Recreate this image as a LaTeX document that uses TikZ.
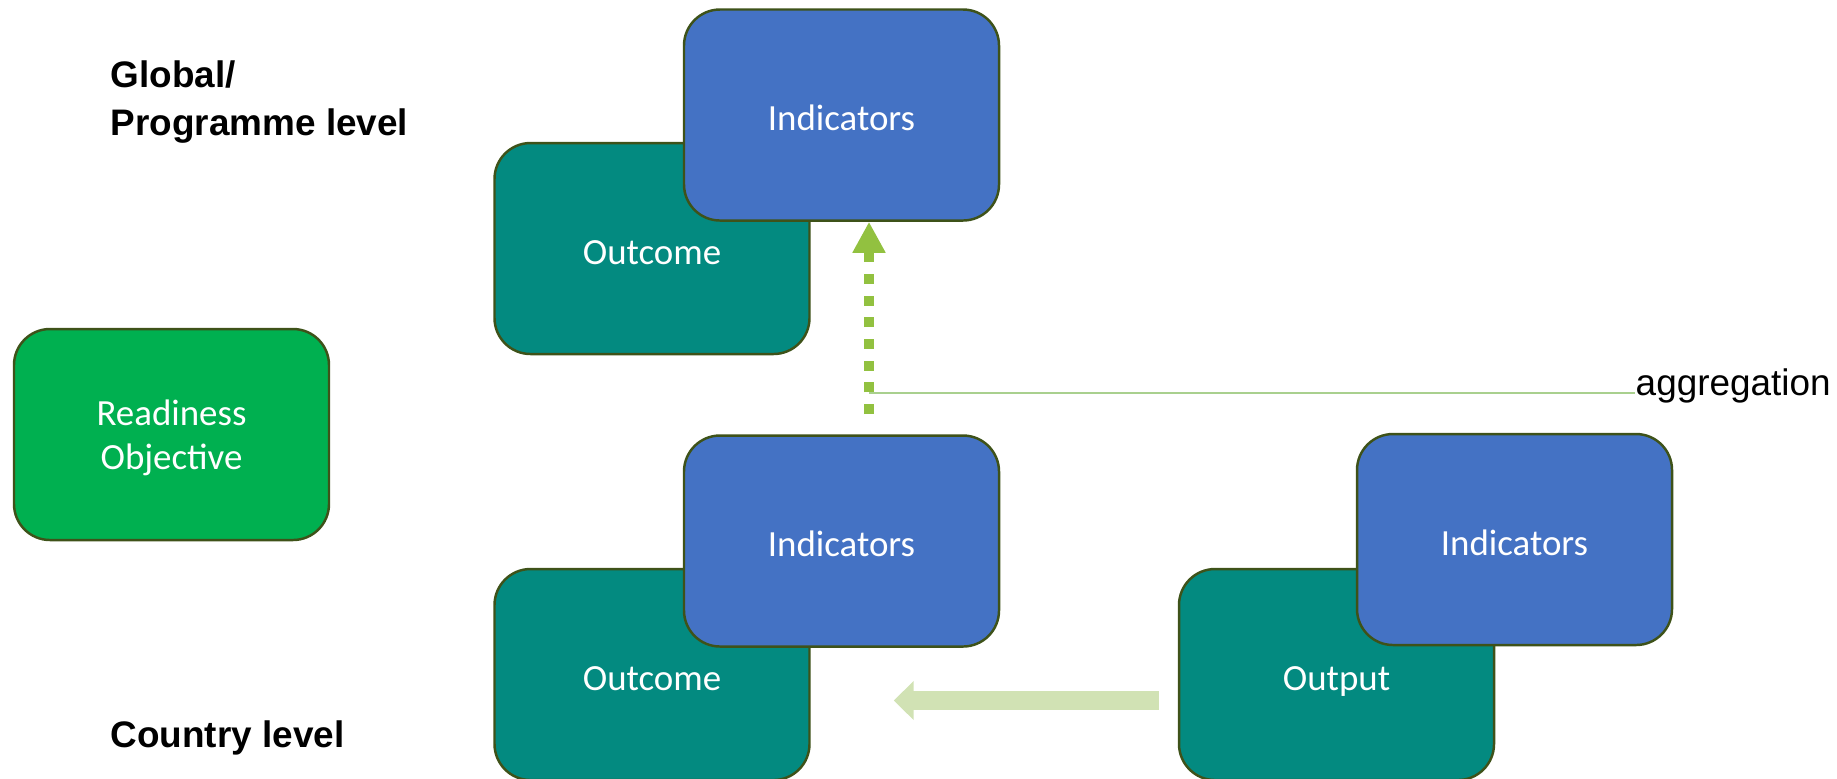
\documentclass[tikz,border=0pt]{standalone}
\usepackage{fontspec}
\setmainfont{Carlito}
\newfontfamily\labelfont{Liberation Sans}
\usetikzlibrary{arrows.meta}

\definecolor{indblue}{HTML}{4472C4}
\definecolor{outteal}{HTML}{038A80}
\definecolor{readygreen}{HTML}{00B050}
\definecolor{boxedge}{HTML}{3E5219}
\definecolor{aggreen}{HTML}{92C140}
\definecolor{flowgreen}{HTML}{D1E2B4}
\definecolor{tickgreen}{HTML}{A9D08E}

\tikzset{
	block/.style={draw=boxedge, line width=0.7pt, rounded corners=0.36cm, minimum width=3.15cm, minimum height=2.11cm, inner sep=0pt, text=white, align=center, text depth=0pt, font=\fontsize{10.5}{12.6}\selectfont},
	onebox/.style={block, text height=0.9em},
	indbox/.style={onebox, fill=indblue},
	outbox/.style={onebox, fill=outteal},
	levellabel/.style={font=\labelfont\bfseries\fontsize{10.5}{13.6}\selectfont, align=left, inner sep=0pt}
}

\begin{document}
\begin{tikzpicture}
		\useasboundingbox (0,0) rectangle (18.37,-7.78);
		%%%%% START %%%%%
		
		\node[levellabel, anchor=north west] (globallbl) at (1.10,-0.60) {Global/\\Programme level};
		\node[levellabel, anchor=base west] (countrylbl) at (1.10,-7.47) {Country level};
		
		\node[block, fill=readygreen] (ready) at (1.715,-4.345) {Readiness\\Objective};
		
		\node[outbox] (topout) at (6.52,-2.485) {Outcome};
		\node[indbox] (topind) at (8.415,-1.15) {Indicators};
		
		\node[outbox] (botout) at (6.52,-6.745) {Outcome};
		\node[indbox] (botind) at (8.415,-5.41) {Indicators};
		
		\node[outbox] (output) at (13.365,-6.745) {Output};
		\node[indbox] (outind) at (15.145,-5.395) {Indicators};
		
		\coordinate (aggfoot) at (8.69,-4.14);
		\coordinate (aggtick) at (8.69,-3.925);
		\node[anchor=base west, inner sep=0pt, font=\labelfont\fontsize{10.5}{12.6}\selectfont] (agg) at (16.35,-3.95) {aggregation};
		\draw[tickgreen, line width=0.02cm] (aggtick) -- (aggtick -| agg.base west);
		\draw[aggreen, line width=0.1cm, dash pattern=on 0.1cm off 0.117cm, -{Triangle[length=0.31cm,width=0.31cm]}] (aggfoot) -- (aggfoot |- topind.south);
		
		\draw[flowgreen, line width=0.19cm, -{Triangle[length=0.2cm,width=0.38cm]}] ([shift={(-0.19,-0.26)}]output.west) -- ([shift={(0.83,-0.26)}]botout.east);
		
		%%%%% END %%%%%
\end{tikzpicture}
\end{document}
